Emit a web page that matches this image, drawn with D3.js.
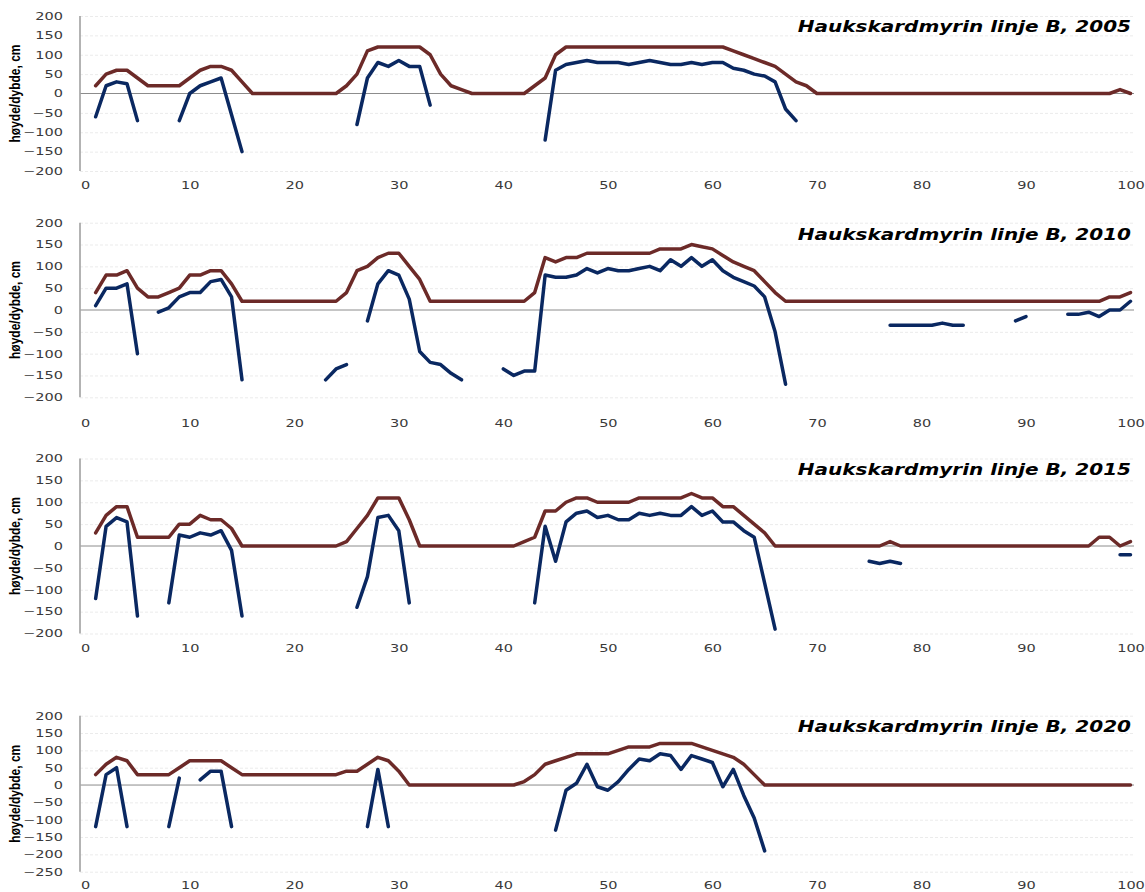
<!DOCTYPE html>
<html>
<head>
<meta charset="utf-8">
<script src="https://d3js.org/d3.v7.min.js"></script>
<style>
body { margin: 0; background: #fff; }
.grid { stroke: #ebebeb; stroke-width: 1px; stroke-dasharray: 3,2; }
.zero { stroke: #8c8c8c; stroke-width: 1px; }
.yline { stroke: #a6a6a6; stroke-width: 1.7px; }
.tlabel { font-family: "DejaVu Sans", Verdana, sans-serif; font-size: 10.5px; fill: #3a3a3a; }
.title { font-family: "DejaVu Sans", Verdana, sans-serif; font-size: 16px; font-weight: bold; font-style: italic; fill: #000; }
.ylabel { font-family: "Liberation Sans Narrow", "Arial Narrow", sans-serif; font-size: 12px; font-weight: bold; fill: #000; }
.surface { fill: none; stroke: #6c2a28; stroke-width: 3.5px; stroke-linejoin: round; stroke-linecap: round; }
.bottom { fill: none; stroke: #0a2861; stroke-width: 3.5px; stroke-linejoin: round; stroke-linecap: round; }
</style>
</head>
<body>
<div id="viz"></div>
<script>

// station number along the line (1..100)
var stations = d3.range(1, 101);
var xTicks = [0, 10, 20, 30, 40, 50, 60, 70, 80, 90, 100];
var yTicks200 = [-200, -150, -100, -50, 0, 50, 100, 150, 200];
var yTicks250 = [-250, -200, -150, -100, -50, 0, 50, 100, 150, 200];
var titles = ["Haukskardmyrin linje B, 2005", "Haukskardmyrin linje B, 2010",
              "Haukskardmyrin linje B, 2015", "Haukskardmyrin linje B, 2020"];
var yLabel = "høyde/dybde, cm";

var n = null; // no measurement

// brown = surface height, blue = bottom depth, cm
var surface2005 = [
  20, 50, 60, 60, 40, 20, 20, 20, 20, 40,
  60, 70, 70, 60, 30, 0, 0, 0, 0, 0,
  0, 0, 0, 0, 20, 50, 110, 120, 120, 120,
  120, 120, 100, 50, 20, 10, 0, 0, 0, 0,
  0, 0, 20, 40, 100, 120, 120, 120, 120, 120,
  120, 120, 120, 120, 120, 120, 120, 120, 120, 120,
  120, 110, 100, 90, 80, 70, 50, 30, 20, 0,
  0, 0, 0, 0, 0, 0, 0, 0, 0, 0,
  0, 0, 0, 0, 0, 0, 0, 0, 0, 0,
  0, 0, 0, 0, 0, 0, 0, 0, 10, 0];
var bottom2005 = [
  -60, 20, 30, 25, -70, n, n, n, -70, 0,
  20, 30, 40, -55, -150, n, n, n, n, n,
  n, n, n, n, n, -80, 40, 80, 70, 85,
  70, 70, -30, n, n, n, n, n, n, n,
  n, n, n, -120, 60, 75, 80, 85, 80, 80,
  80, 75, 80, 85, 80, 75, 75, 80, 75, 80,
  80, 65, 60, 50, 45, 30, -40, -70, n, n,
  n, n, n, n, n, n, n, n, n, n,
  n, n, n, n, n, n, n, n, n, n,
  n, n, n, n, n, n, n, n, n, n];

var surface2010 = [
  40, 80, 80, 90, 50, 30, 30, 40, 50, 80,
  80, 90, 90, 60, 20, 20, 20, 20, 20, 20,
  20, 20, 20, 20, 40, 90, 100, 120, 130, 130,
  100, 70, 20, 20, 20, 20, 20, 20, 20, 20,
  20, 20, 40, 120, 110, 120, 120, 130, 130, 130,
  130, 130, 130, 130, 140, 140, 140, 150, 145, 140,
  125, 110, 100, 90, 65, 40, 20, 20, 20, 20,
  20, 20, 20, 20, 20, 20, 20, 20, 20, 20,
  20, 20, 20, 20, 20, 20, 20, 20, 20, 20,
  20, 20, 20, 20, 20, 20, 20, 30, 30, 40];
var bottom2010 = [
  10, 50, 50, 60, -100, n, -5, 5, 30, 40,
  40, 65, 70, 30, -160, n, n, n, n, n,
  n, n, -160, -135, -125, n, -25, 60, 90, 80,
  25, -95, -120, -125, -145, -160, n, n, n, -135,
  -150, -140, -140, 80, 75, 75, 80, 95, 85, 95,
  90, 90, 95, 100, 90, 115, 100, 120, 100, 115,
  90, 75, 65, 55, 30, -50, -170, n, n, n,
  n, n, n, n, n, n, -35, -35, -35, -35,
  -35, -30, -35, -35, n, n, n, n, -25, -15,
  n, n, n, -10, -10, -5, -15, 0, 0, 20];

var surface2015 = [
  30, 70, 90, 90, 20, 20, 20, 20, 50, 50,
  70, 60, 60, 40, 0, 0, 0, 0, 0, 0,
  0, 0, 0, 0, 10, 40, 70, 110, 110, 110,
  60, 0, 0, 0, 0, 0, 0, 0, 0, 0,
  0, 10, 20, 80, 80, 100, 110, 110, 100, 100,
  100, 100, 110, 110, 110, 110, 110, 120, 110, 110,
  90, 90, 70, 50, 30, 0, 0, 0, 0, 0,
  0, 0, 0, 0, 0, 0, 10, 0, 0, 0,
  0, 0, 0, 0, 0, 0, 0, 0, 0, 0,
  0, 0, 0, 0, 0, 0, 20, 20, 0, 10];
var bottom2015 = [
  -120, 45, 65, 55, -160, n, n, -130, 25, 20,
  30, 25, 35, -10, -160, n, n, n, n, n,
  n, n, n, n, n, -140, -70, 65, 70, 35,
  -130, n, n, n, n, n, n, n, n, n,
  n, n, -130, 45, -35, 55, 75, 80, 65, 70,
  60, 60, 75, 70, 75, 70, 70, 90, 70, 80,
  55, 55, 35, 20, -85, -190, n, n, n, n,
  n, n, n, n, -35, -40, -35, -40, n, n,
  n, n, n, n, n, n, n, n, n, n,
  n, n, n, n, n, n, n, n, -20, -20];

var surface2020 = [
  30, 60, 80, 70, 30, 30, 30, 30, 50, 70,
  70, 70, 70, 50, 30, 30, 30, 30, 30, 30,
  30, 30, 30, 30, 40, 40, 60, 80, 70, 40,
  0, 0, 0, 0, 0, 0, 0, 0, 0, 0,
  0, 10, 30, 60, 70, 80, 90, 90, 90, 90,
  100, 110, 110, 110, 120, 120, 120, 120, 110, 100,
  90, 80, 60, 30, 0, 0, 0, 0, 0, 0,
  0, 0, 0, 0, 0, 0, 0, 0, 0, 0,
  0, 0, 0, 0, 0, 0, 0, 0, 0, 0,
  0, 0, 0, 0, 0, 0, 0, 0, 0, 0];
var bottom2020 = [
  -120, 30, 50, -120, n, n, n, -120, 20, n,
  15, 40, 40, -120, n, n, n, n, n, n,
  n, n, n, n, n, n, -120, 45, -120, n,
  n, n, n, n, n, n, n, n, n, n,
  n, n, n, n, -130, -15, 5, 60, -5, -15,
  10, 45, 75, 70, 90, 85, 45, 85, 75, 65,
  -5, 45, -30, -95, -190, n, n, n, n, n,
  n, n, n, n, n, n, n, n, n, n,
  n, n, n, n, n, n, n, n, n, n,
  n, n, n, n, n, n, n, n, n, n];

// layout of the four stacked panels (pixel tops/bottoms of the value axis)
var panels = [
  {title: titles[0], surface: surface2005, bottom: bottom2005, ticks: yTicks200, top: 16, bot: 171, xPad: 11, titleY: 32},
  {title: titles[1], surface: surface2010, bottom: bottom2010, ticks: yTicks200, top: 222.7, bot: 397.3, xPad: 22, titleY: 239.5},
  {title: titles[2], surface: surface2015, bottom: bottom2015, ticks: yTicks200, top: 458.5, bot: 633.5, xPad: 11, titleY: 475},
  {title: titles[3], surface: surface2020, bottom: bottom2020, ticks: yTicks250, top: 715.7, bot: 871.7, xPad: 10, titleY: 731.5}
];

var width = 1145, height = 892;
var left = 80, right = 1134;
var sx = 1.38;   // the original picture is stretched sideways

var svg = d3.select("#viz")
  .append("svg")
  .attr("width", width)
  .attr("height", height);

var x = d3.scaleLinear().domain([0, 100]).range([85.2, 1130.5]);

panels.forEach(function(p) {
  var y = d3.scaleLinear()
    .domain([p.ticks[0], p.ticks[p.ticks.length - 1]])
    .range([p.bot, p.top]);

  var g = svg.append("g");

  // dashed gridlines
  g.append("g")
    .attr("transform", "translate(" + left + ",0)")
    .call(d3.axisLeft(y).tickValues(p.ticks.filter(function(t) { return t != 0; }))
      .tickSize(-(right - left)).tickFormat(""))
    .call(function(a) { a.select(".domain").remove(); })
    .selectAll("line").attr("class", "grid");

  // zero line
  g.append("line").attr("class", "zero")
    .attr("x1", left).attr("x2", right)
    .attr("y1", y(0)).attr("y2", y(0));

  // vertical axis line
  g.append("line").attr("class", "yline")
    .attr("x1", left).attr("x2", left)
    .attr("y1", y.range()[0]).attr("y2", y.range()[1]);

  // y tick labels
  g.append("g")
    .attr("transform", "translate(" + left + ",0)")
    .call(d3.axisLeft(y).tickValues(p.ticks).tickSize(0).tickPadding(17 / sx))
    .call(function(a) { a.select(".domain").remove(); })
    .selectAll("text")
    .attr("class", "tlabel")
    .attr("transform", "scale(" + sx + ",1)");

  // x tick labels
  g.append("g")
    .attr("transform", "translate(0," + p.bot + ")")
    .call(d3.axisBottom(x).tickValues(xTicks).tickSize(0).tickPadding(p.xPad))
    .call(function(a) { a.select(".domain").remove(); })
    .selectAll("text")
    .attr("class", "tlabel")
    .attr("transform", "scale(" + sx + ",1)");

  // axis title
  g.append("text").attr("class", "ylabel")
    .attr("text-anchor", "middle")
    .attr("transform", "translate(20," + (p.top + p.bot) / 2 + ") rotate(-90) scale(1,1.15)")
    .text(yLabel);

  // panel title
  g.append("text").attr("class", "title")
    .attr("text-anchor", "end")
    .attr("transform", "translate(1131," + p.titleY + ") scale(1.25,1)")
    .text(p.title);

  var line = d3.line()
    .defined(function(d) { return d[1] != null; })
    .x(function(d) { return x(d[0]); })
    .y(function(d) { return y(d[1]); });

  g.append("path").attr("class", "surface")
    .attr("d", line(stations.map(function(s, i) { return [s, p.surface[i]]; })));

  g.append("path").attr("class", "bottom")
    .attr("d", line(stations.map(function(s, i) { return [s, p.bottom[i]]; })));
});

</script>
</body>
</html>
